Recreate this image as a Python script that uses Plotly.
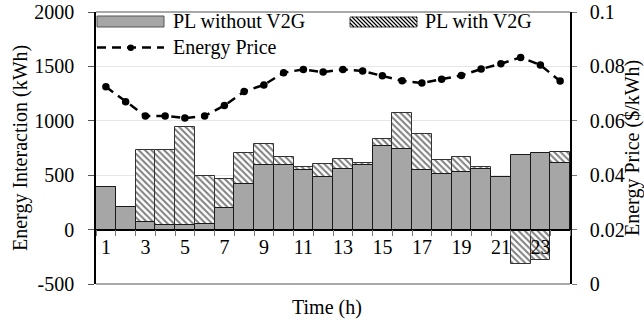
import plotly.graph_objects as go

hours = list(range(1, 25))
pl_without_v2g = [392, 204, 71, 40, 46, 52, 194, 419, 592, 592, 546, 481,
                  555, 592, 765, 740, 549, 515, 527, 555, 481, 685, 700, 611]
pl_with_v2g = [392, 204, 728, 734, 941, 494, 469, 703, 784, 666, 574, 607,
               645, 611, 833, 1071, 880, 642, 663, 580, -15, -315, -280, 709]
energy_price = [0.0725, 0.0670, 0.0618, 0.0618, 0.0610, 0.0618, 0.0656, 0.0708,
                0.0732, 0.0777, 0.0789, 0.0779, 0.0789, 0.0783, 0.0766, 0.0747,
                0.0739, 0.0753, 0.0767, 0.0790, 0.0810, 0.0833, 0.0805, 0.0746]
x_tick_vals = [1, 3, 5, 7, 9, 11, 13, 15, 17, 19, 21, 23]
x_tick_text = [str(v) for v in x_tick_vals]
left_ticks = [-500, 0, 500, 1000, 1500, 2000]
left_tick_text = ["-500", "0", "500", "1000", "1500", "2000"]
right_ticks = [0, 0.02, 0.04, 0.06, 0.08, 0.1]
right_tick_text = ["0", "0.02", "0.04", "0.06", "0.08", "0.1"]

FONT = "'Liberation Serif', Tinos, 'Times New Roman', Times, 'DejaVu Serif', 'Noto Serif', serif"
W, H = 644, 324
ML, MR, MT, MB = 96, 74, 12, 40
PW, PH = W - ML - MR, H - MT - MB


def px(x):
    return (x - ML) / PW


def py(y):
    return (H - MB - y) / PH


fig = go.Figure()
fig.add_trace(go.Bar(
    x=hours, y=pl_with_v2g, name="PL with V2G", width=1,
    marker=dict(color="white",
                pattern=dict(shape="\\", fgcolor="black", bgcolor="white", size=4.5, solidity=0.45),
                line=dict(color="#333333", width=1)),
    showlegend=False))
fig.add_trace(go.Bar(
    x=hours, y=pl_without_v2g, name="PL without V2G", width=1,
    marker=dict(color="#a6a6a6", line=dict(color="#1a1a1a", width=1)),
    showlegend=False))
fig.add_trace(go.Scatter(
    x=hours, y=energy_price, name="Energy Price", yaxis="y2", mode="lines+markers",
    line=dict(color="black", width=2.5, dash="9px,6px"),
    marker=dict(color="black", size=7.5), showlegend=False))

shapes = []
shapes.append(dict(type="line", xref="paper", yref="paper", x0=0, x1=1, y0=1, y1=1,
                   line=dict(color="#555555", width=1.2)))
shapes.append(dict(type="line", xref="paper", yref="paper", x0=0, x1=1, y0=0, y1=0,
                   line=dict(color="#555555", width=1.2)))
shapes.append(dict(type="rect", xref="paper", yref="paper", x0=px(97), x1=px(164), y0=py(27), y1=py(16),
                   fillcolor="#a6a6a6", line=dict(color="#555555", width=1)))
hx0, hx1, hy0, hy1 = 350, 417, 17, 27
shapes.append(dict(type="rect", xref="paper", yref="paper", x0=px(hx0), x1=px(hx1), y0=py(hy1), y1=py(hy0),
                   fillcolor="white", line=dict(color="#444444", width=1)))
hh = hy1 - hy0
path = ""
k = hx0 - hh
while k < hx1:
    xa, ya = k, hy0
    xb, yb = k + hh, hy1
    if xa < hx0:
        ya = hy0 + (hx0 - xa)
        xa = hx0
    if xb > hx1:
        yb = hy1 - (xb - hx1)
        xb = hx1
    if xb > xa:
        path += f"M{px(xa)},{py(ya)} L{px(xb)},{py(yb)} "
    k += 4
shapes.append(dict(type="path", xref="paper", yref="paper", path=path,
                   line=dict(color="black", width=1.2)))
shapes.append(dict(type="line", xref="paper", yref="paper", x0=px(97), x1=px(164), y0=py(47.5), y1=py(47.5),
                   line=dict(color="black", width=2.5, dash="9px,6px")))
shapes.append(dict(type="circle", xref="paper", yref="paper", x0=px(127.5), x1=px(134), y0=py(51), y1=py(44.5),
                   fillcolor="black", line=dict(color="black", width=0)))

tf = dict(size=20, color="black", family=FONT)
annotations = [
    dict(text="PL without V2G", x=px(171), y=py(21), xref="paper", yref="paper",
         xanchor="left", yanchor="middle", showarrow=False, font=tf),
    dict(text="PL with V2G", x=px(423), y=py(21), xref="paper", yref="paper",
         xanchor="left", yanchor="middle", showarrow=False, font=tf),
    dict(text="Energy Price", x=px(171), y=py(47), xref="paper", yref="paper",
         xanchor="left", yanchor="middle", showarrow=False, font=tf),
    dict(text="Time (h)", x=px(327), y=py(307), xref="paper", yref="paper",
         xanchor="center", yanchor="middle", showarrow=False, font=tf),
    dict(text="Energy Interaction (kWh)", x=px(20), y=py(148), xref="paper", yref="paper",
         xanchor="center", yanchor="middle", showarrow=False, textangle=-90, font=tf),
    dict(text="Energy Price ($/kWh)", x=px(632), y=py(148), xref="paper", yref="paper",
         xanchor="center", yanchor="middle", showarrow=False, textangle=-90, font=tf),
]

fig.update_layout(
    width=W, height=H,
    margin=dict(l=ML, r=MR, t=MT, b=MB, autoexpand=False),
    paper_bgcolor="white", plot_bgcolor="white",
    barmode="overlay", bargap=0,
    font=dict(family=FONT, size=20, color="black"),
    shapes=shapes, annotations=annotations,
    xaxis=dict(range=[0.5, 24.5], anchor="free", position=0.2,
               tickmode="array", tickvals=x_tick_vals, ticktext=x_tick_text,
               ticks="", showgrid=False, zeroline=False,
               showline=True, linecolor="black", linewidth=1.5,
               minor=dict(ticks="outside", tick0=0.5, dtick=1, ticklen=6, tickcolor="#777777", showgrid=False),
               tickfont=tf, automargin=False),
    yaxis=dict(range=[-500, 2000], tickmode="array", tickvals=left_ticks, ticktext=left_tick_text,
               ticks="outside", ticklen=6, tickcolor="#555555", ticklabelstandoff=10,
               showline=True, linecolor="black", linewidth=1.5,
               showgrid=True, gridcolor="#e6e6e6", gridwidth=1, zeroline=False,
               tickfont=tf, automargin=False),
    yaxis2=dict(range=[0, 0.1], overlaying="y", side="right", tickmode="array",
                tickvals=right_ticks, ticktext=right_tick_text,
                ticks="outside", ticklen=5, tickcolor="#777777", ticklabelstandoff=9,
                showline=True, linecolor="black", linewidth=1.5,
                showgrid=False, zeroline=False,
                tickfont=tf, automargin=False),
)

fig.write_html("out.html", config={"displayModeBar": False},
               post_script="document.body.style.margin='0';document.body.style.overflow='hidden';")
